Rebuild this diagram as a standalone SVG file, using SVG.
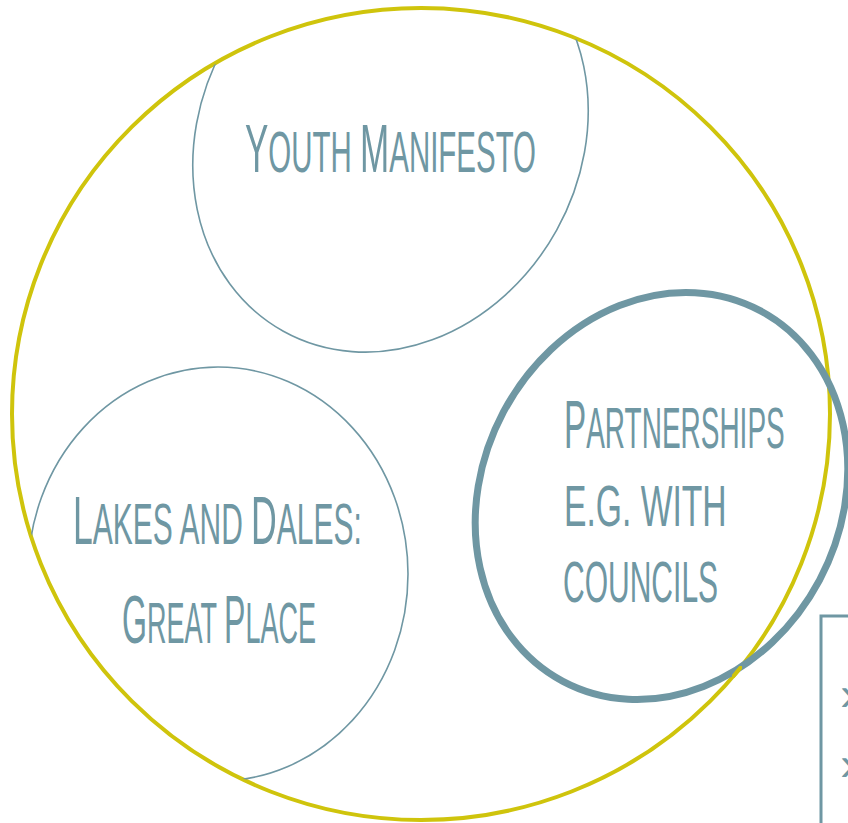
<svg xmlns="http://www.w3.org/2000/svg" width="848" height="823" viewBox="0 0 848 823">
<style>
.thin{fill:none;stroke:#6f97a3;stroke-width:1.6}
.lbl{font-family:"Liberation Sans",Arial,sans-serif;fill:#6f97a3;font-size:58px}
.cap{font-size:69px}
.chev{font-family:"Liberation Sans",Arial,sans-serif;font-size:48px;fill:#6f97a3}
</style>
<defs>
<clipPath id="inner"><ellipse cx="421" cy="414" rx="408" ry="405"/></clipPath>
<clipPath id="bit"><rect x="732" y="666" width="10" height="12"/></clipPath>
</defs>
<rect width="848" height="823" fill="#fff"/>
<g id="outer">
<ellipse cx="421" cy="414" rx="409" ry="406" fill="none" stroke="#cfc40c" stroke-width="4"/>
</g>
<g id="youth">
<g clip-path="url(#inner)"><ellipse class="thin" cx="0" cy="0" rx="221" ry="190" transform="translate(390.5 138) rotate(-61)"/></g>
<text class="lbl" transform="translate(245 172) scale(0.507 1)" textLength="574" lengthAdjust="spacingAndGlyphs"><tspan class="cap">Y</tspan>OUTH <tspan class="cap">M</tspan>ANIFESTO</text>
</g>
<g id="lakes">
<g clip-path="url(#inner)"><ellipse class="thin" cx="218" cy="574" rx="190" ry="207"/></g>
<text class="lbl" transform="translate(73 544) scale(0.514 1)" textLength="562" lengthAdjust="spacingAndGlyphs"><tspan class="cap">L</tspan>AKES AND <tspan class="cap">D</tspan>ALES:</text>
<text class="lbl" transform="translate(122 643) scale(0.46 1)" textLength="422" lengthAdjust="spacingAndGlyphs"><tspan class="cap">G</tspan>REAT <tspan class="cap">P</tspan>LACE</text>
</g>
<g id="partnerships">
<ellipse cx="0" cy="0" rx="210" ry="179" fill="none" stroke="#6f97a3" stroke-width="7" transform="translate(661.5 496) rotate(-62)"/>
<ellipse cx="421" cy="414" rx="409" ry="406" fill="none" stroke="#cfc40c" stroke-width="4" clip-path="url(#bit)"/>
<text class="lbl" transform="translate(564 448) scale(0.483 1)" textLength="457" lengthAdjust="spacingAndGlyphs"><tspan class="cap">P</tspan>ARTNERSHIPS</text>
<text class="lbl" transform="translate(564 526) scale(0.581 1)" textLength="280" lengthAdjust="spacingAndGlyphs">E.G. WITH</text>
<text class="lbl" transform="translate(563 602) scale(0.517 1)" textLength="300" lengthAdjust="spacingAndGlyphs">COUNCILS</text>
</g>
<g id="box">
<rect x="821" y="616" width="60" height="240" fill="none" stroke="#6f97a3" stroke-width="3"/>
<text class="chev" x="840" y="710">›</text>
<text class="chev" x="840" y="780">›</text>
</g>
<g id="connectors"/>
</svg>
